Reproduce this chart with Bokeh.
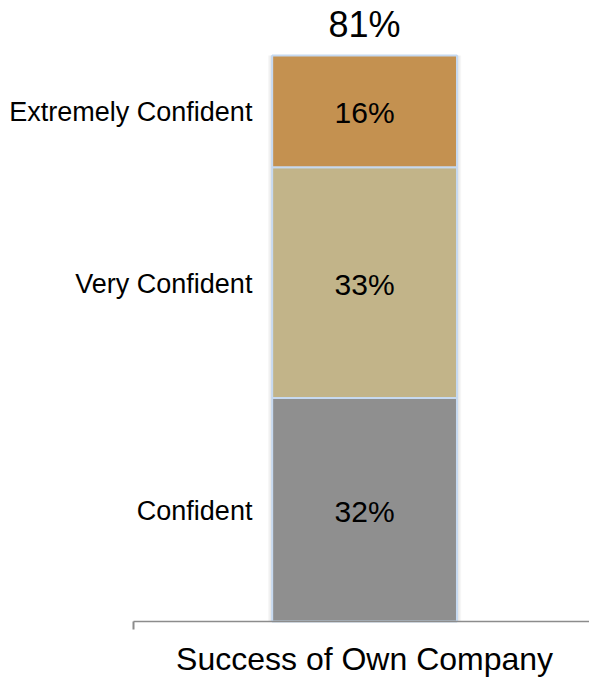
from bokeh.plotting import figure
from bokeh.models import ColumnDataSource, LabelSet, Range1d, FixedTicker, LinearAxis
from bokeh.core.properties import value
from bokeh.embed import file_html
from bokeh.resources import INLINE
import numpy as np

# ---- data ----
categories = ["Success of Own Company"]
series = ["Confident", "Very Confident", "Extremely Confident"]
values = [32, 33, 16]
value_labels = ["32%", "33%", "16%"]
total_label = ["81%"]
colors = ["#8F8F8F", "#C2B489", "#C49150"]

FONT = "Liberation Sans"

p = figure(width=589, height=678, output_backend="svg", toolbar_location=None,
           x_range=Range1d(-1.970, 1.217), y_range=Range1d(-8.157, 88.87),
           x_axis_type=None, y_axis_type=None,
           min_border=0)
p.outline_line_color = None
p.background_fill_color = "white"
p.border_fill_color = "white"
p.grid.visible = False

vals = np.array(values, dtype=float)
tops = np.cumsum(vals)
bottoms = tops - vals
mids = (tops + bottoms) / 2

src = ColumnDataSource(dict(x=[0.0] * len(series), bottom=bottoms, top=tops,
                            color=colors, name=series, label=value_labels,
                            mid=mids, lx=[-0.607] * len(series)))

# faint soft shadow around the bar
for extra, alpha in [(0.045, 0.035), (0.03, 0.04), (0.015, 0.05)]:
    p.vbar(x=0.0, bottom=0, top=tops[-1], width=1.0 + extra,
           fill_color="black", fill_alpha=alpha, line_color=None)

p.vbar(x="x", bottom="bottom", top="top", width=1.0, fill_color="color",
       line_color="#C6D9F0", line_width=2, source=src)

# value labels inside the segments
p.add_layout(LabelSet(x="x", y="mid", text="label", source=src,
                      text_align="center", text_baseline="alphabetic",
                      y_offset=-12, text_font=value(FONT), text_font_size="30px",
                      text_color="black"))
# series names on the left
p.add_layout(LabelSet(x="lx", y="mid", text="name", source=src,
                      text_align="right", text_baseline="alphabetic",
                      y_offset=-10, text_font=value(FONT), text_font_size="27px",
                      text_color="black"))
# total above the bar
tsrc = ColumnDataSource(dict(x=[0.0], y=[tops[-1]], t=total_label))
p.add_layout(LabelSet(x="x", y="y", text="t", source=tsrc,
                      text_align="center", text_baseline="alphabetic",
                      y_offset=18, text_font=value(FONT), text_font_size="36px",
                      text_color="black"))

ax = LinearAxis(fixed_location=0, bounds=(-1.2505, 1.217))
ax.ticker = FixedTicker(ticks=[0], minor_ticks=[-1.25])
ax.major_label_overrides = {0: categories[0]}
ax.major_tick_in = 0
ax.major_tick_out = 0
ax.minor_tick_in = 0
ax.minor_tick_out = 8
ax.minor_tick_line_color = "#8C8C8C"
ax.minor_tick_line_width = 2
ax.axis_line_color = "#8C8C8C"
ax.axis_line_width = 1.5
ax.major_label_text_font = FONT
ax.major_label_text_font_size = "32px"
ax.major_label_text_color = "black"
ax.major_label_standoff = 11
p.add_layout(ax, "below")

open("out.html", "w").write(file_html(p, INLINE))
